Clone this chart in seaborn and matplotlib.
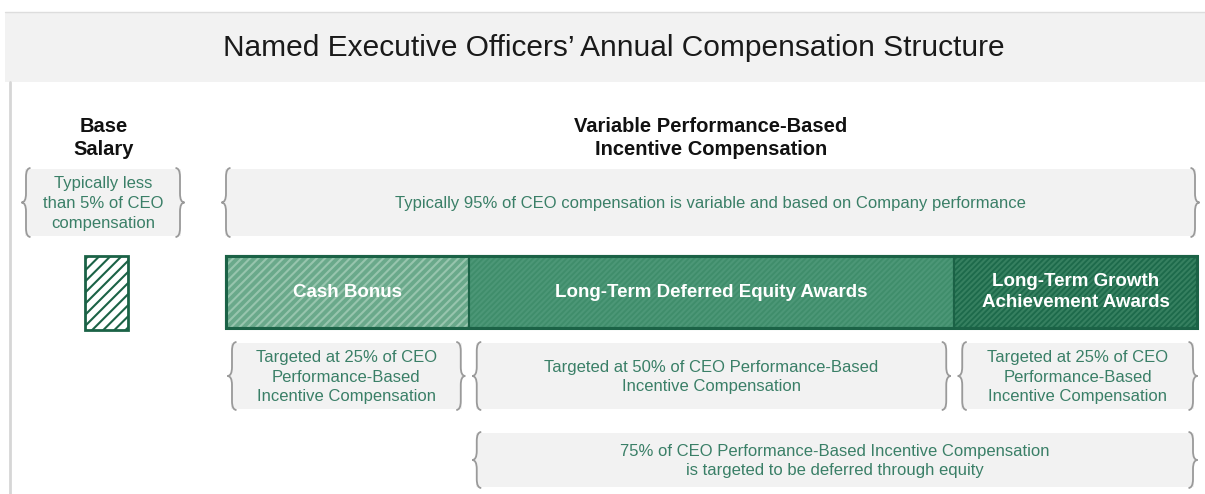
import numpy as np
import matplotlib
matplotlib.use('Agg')
import matplotlib.pyplot as plt
from matplotlib.patches import Rectangle, PathPatch
from matplotlib.path import Path
import seaborn as sns

sns.set_theme(style='white')
plt.rcParams['font.family'] = ['Liberation Sans', 'DejaVu Sans']
plt.rcParams['hatch.linewidth'] = 1.5

# 데이터
title = 'Named Executive Officers\u2019 Annual Compensation Structure'
segments = ['Cash Bonus', 'Long-Term Deferred Equity Awards', 'Long-Term Growth\nAchievement Awards']
shares = [25, 50, 25]          # % of CEO performance-based incentive compensation
seg_notes = ['Targeted at 25% of CEO\nPerformance-Based\nIncentive Compensation',
             'Targeted at 50% of CEO Performance-Based\nIncentive Compensation',
             'Targeted at 25% of CEO\nPerformance-Based\nIncentive Compensation']
base_header = 'Base\nSalary'
base_note = 'Typically less\nthan 5% of CEO\ncompensation'
var_header = 'Variable Performance-Based\nIncentive Compensation'
var_note = 'Typically 95% of CEO compensation is variable and based on Company performance'
deferred_share = shares[1] + shares[2]
deferred_note = f'{deferred_share}% of CEO Performance-Based Incentive Compensation\nis targeted to be deferred through equity'

seg_colors = ['#6aa98b', '#3f8d6b', '#1d6a4b']
hatch_colors = ['#98c5ae', '#4c9777', '#368060']
border = '#1b6246'
txt_green = '#3a7f67'
box_gray = '#f2f2f2'
brace_gray = '#9a9a9a'

W, H = 1205, 494
fig = plt.figure(figsize=(W / 100, H / 100), dpi=100)
ax = fig.add_axes([0, 0, 1, 1])
ax.set_xlim(0, W)
ax.set_ylim(H, 0)
ax.axis('off')


def brace(x, y0, y1, side, w=9, r=9):
    # 중괄호 그리기 (side='left' -> '{', 'right' -> '}')
    s = -1 if side == 'left' else 1
    xm = x
    xo = x + s * w / 2
    xi = x - s * w / 2
    mid = (y0 + y1) / 2
    verts = [(xi, y0), (xm, y0), (xm, y0 + r), (xm, y0 + r),
             (xm, mid - r), (xm, mid), (xo, mid),
             (xm, mid), (xm, mid + r),
             (xm, y1 - r), (xm, y1 - r), (xm, y1), (xi, y1)]
    codes = [Path.MOVETO, Path.CURVE3, Path.CURVE3, Path.LINETO,
             Path.LINETO, Path.CURVE3, Path.CURVE3,
             Path.CURVE3, Path.CURVE3,
             Path.LINETO, Path.LINETO, Path.CURVE3, Path.CURVE3]
    ax.add_patch(PathPatch(Path(verts, codes), fill=False, edgecolor=brace_gray, lw=1.3))


def note_box(x0, x1, y0, y1, text, fs=12, ls=1.38):
    ax.add_patch(Rectangle((x0 + 3, y0 + 1), x1 - x0 - 6, y1 - y0 - 2,
                           facecolor=box_gray, edgecolor='none'))
    brace(x0 + 4, y0, y1, 'left')
    brace(x1 - 4, y0, y1, 'right')
    ax.text((x0 + x1) / 2, (y0 + y1) / 2 + 1, text, ha='center', va='center',
            color=txt_green, fontsize=fs, linespacing=ls)


# 제목 영역
ax.add_patch(Rectangle((5, 12), W - 5, 70, facecolor=box_gray, edgecolor='none'))
ax.plot([5, W], [12, 12], color='#dddddd', lw=1)
ax.plot([10, 10], [82, H], color='#d6d6d6', lw=2)
ax.text(614, 48, title, ha='center', va='center', fontsize=21.5, color='#1a1a1a')

# 헤더
ax.text(104, 138, base_header, ha='center', va='center', fontsize=14.5,
        fontweight='bold', color='#111111', linespacing=1.3)
ax.text(711, 138, var_header, ha='center', va='center', fontsize=14.5,
        fontweight='bold', color='#111111', linespacing=1.3)

# 상단 설명 박스
note_box(22, 184, 168, 237, base_note)
note_box(222, 1199, 168, 237, var_note)

# 기본급 막대
ax.bar([106.5], [74], width=43, bottom=256, color='white', edgecolor=border,
       linewidth=0, hatch='///')
ax.add_patch(Rectangle((85, 256), 43, 74, fill=False, edgecolor=border, lw=2))

# 성과급 누적 막대
bar_left, bar_right = 226, 1197
scale = (bar_right - bar_left) / sum(shares)
widths = np.array(shares) * scale
lefts = bar_left + np.concatenate([[0], np.cumsum(widths)[:-1]])
bar_y, bar_h = 292, 72
for i in range(len(shares)):
    ax.barh(bar_y, widths[i], left=lefts[i], height=bar_h, color=seg_colors[i],
            edgecolor=hatch_colors[i], linewidth=0, hatch='////' if i == 0 else '//////')
    ax.add_patch(Rectangle((lefts[i], bar_y - bar_h / 2), widths[i], bar_h,
                           fill=False, edgecolor=border, lw=1.5))
    ax.text(lefts[i] + widths[i] / 2, bar_y, segments[i], ha='center', va='center',
            color='white', fontsize=13.5, fontweight='bold', linespacing=1.25)
ax.add_patch(Rectangle((bar_left, bar_y - bar_h / 2), bar_right - bar_left, bar_h,
                       fill=False, edgecolor=border, lw=2.2))

# 하단 설명 박스
gap = 4
for i in range(len(shares)):
    x0 = lefts[i] + (2 if i == 0 else gap)
    x1 = lefts[i] + widths[i] - (gap if i < len(shares) - 1 else 0)
    note_box(x0, x1, 342, 410, seg_notes[i])

note_box(lefts[1] + gap, bar_right, 432, 488, deferred_note)

fig.savefig('out.png', dpi=100)
